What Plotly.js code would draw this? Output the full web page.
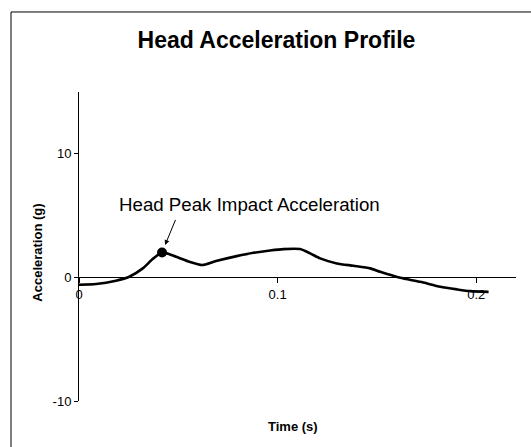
<!DOCTYPE html>
<html>
<head>
<meta charset="utf-8">
<script src="https://cdn.plot.ly/plotly-3.0.1.min.js"></script>
<style>html,body{margin:0;padding:0;background:#fff;}#chart{width:531px;height:447px;}</style>
</head>
<body>
<div id="chart"></div>
<script>
// Data
const timeS = [0, 0.0086, 0.0186, 0.0253, 0.0321, 0.0371, 0.0418, 0.0489, 0.0556, 0.062, 0.069, 0.0794, 0.0878, 0.0962, 0.1029, 0.1113, 0.1164, 0.1214, 0.1298, 0.1382, 0.1466, 0.1516, 0.1617, 0.1718, 0.1819, 0.1903, 0.197, 0.2062];
const accelG = [-0.6, -0.54, -0.27, 0.05, 0.73, 1.48, 2.02, 1.67, 1.26, 1.0, 1.32, 1.72, 1.99, 2.18, 2.29, 2.29, 1.94, 1.54, 1.13, 0.94, 0.73, 0.45, -0.03, -0.36, -0.76, -0.97, -1.11, -1.17];
const peakTime = [0.0418];
const peakAccel = [2.02];
const xTickVals = [0, 0.1, 0.2];
const xTickText = ['0', '0.1', '0.2'];
const yTickVals = [-10, 0, 10];
const yTickText = ['-10', '0', '10'];

const FONT = 'Arial, "Liberation Sans", sans-serif';

const traces = [
  {
    x: timeS, y: accelG, type: 'scatter', mode: 'lines',
    line: {color: '#000', width: 2.6, shape: 'spline', smoothing: 0.6},
    hoverinfo: 'skip', showlegend: false
  },
  {
    x: peakTime, y: peakAccel, type: 'scatter', mode: 'markers',
    marker: {color: '#000', size: 10},
    hoverinfo: 'skip', showlegend: false
  }
];

const layout = {
  width: 531, height: 447,
  margin: {l: 79, r: 15, t: 92, b: 46},
  paper_bgcolor: '#fff', plot_bgcolor: 'rgba(0,0,0,0)',
  font: {family: FONT, color: '#000'},
  showlegend: false,
  title: {
    text: '<b>Head Acceleration Profile</b>',
    font: {family: FONT, size: 23, color: '#000'},
    xref: 'container', x: 0.5207, xanchor: 'center',
    yref: 'container', y: 0.9105, yanchor: 'middle'
  },
  xaxis: {
    range: [0, 0.22], anchor: 'free', position: 0.4,
    showline: true, linecolor: '#000', linewidth: 1,
    showgrid: false, zeroline: false,
    ticks: 'outside', ticklen: 5, tickcolor: '#000', tickwidth: 1,
    tickmode: 'array', tickvals: xTickVals, ticktext: xTickText,
    tickfont: {family: FONT, size: 13, color: '#000'}
  },
  yaxis: {
    range: [-10, 15],
    showline: true, linecolor: '#000', linewidth: 1,
    showgrid: false, zeroline: false,
    ticks: 'outside', ticklen: 4, tickcolor: '#000', tickwidth: 1,
    tickmode: 'array', tickvals: yTickVals, ticktext: yTickText,
    tickfont: {family: FONT, size: 13, color: '#000'}
  },
  shapes: [
    {type: 'rect', xref: 'paper', yref: 'paper', x0: -0.1556, x1: 1.3, y0: -0.4, y1: 1.259,
     line: {color: '#000', width: 1}, fillcolor: 'rgba(0,0,0,0)', layer: 'below'}
  ],
  annotations: [
    {text: '<b>Acceleration (g)</b>', xref: 'paper', yref: 'paper', x: -0.0945, y: 0.479,
     textangle: -90, showarrow: false, font: {family: FONT, size: 13, color: '#000'},
     xanchor: 'center', yanchor: 'middle'},
    {text: '<b>Time (s)</b>', xref: 'paper', yref: 'paper', x: 0.4886, y: -0.081,
     showarrow: false, font: {family: FONT, size: 13, color: '#000'},
     xanchor: 'center', yanchor: 'middle'},
    {text: 'Head Peak Impact Acceleration', xref: 'x', yref: 'y', x: 0.0856, y: 5.93,
     showarrow: false, font: {family: FONT, size: 18.7, color: '#000'},
     xanchor: 'center', yanchor: 'middle'},
    {text: '', xref: 'x', yref: 'y', x: peakTime[0], y: peakAccel[0],
     axref: 'x', ayref: 'y', ax: 0.0489, ay: 4.78,
     showarrow: true, arrowhead: 2, arrowsize: 1, arrowwidth: 1, arrowcolor: '#000', standoff: 8}
  ]
};

Plotly.newPlot('chart', traces, layout, {staticPlot: true, displayModeBar: false});
</script>
</body>
</html>
